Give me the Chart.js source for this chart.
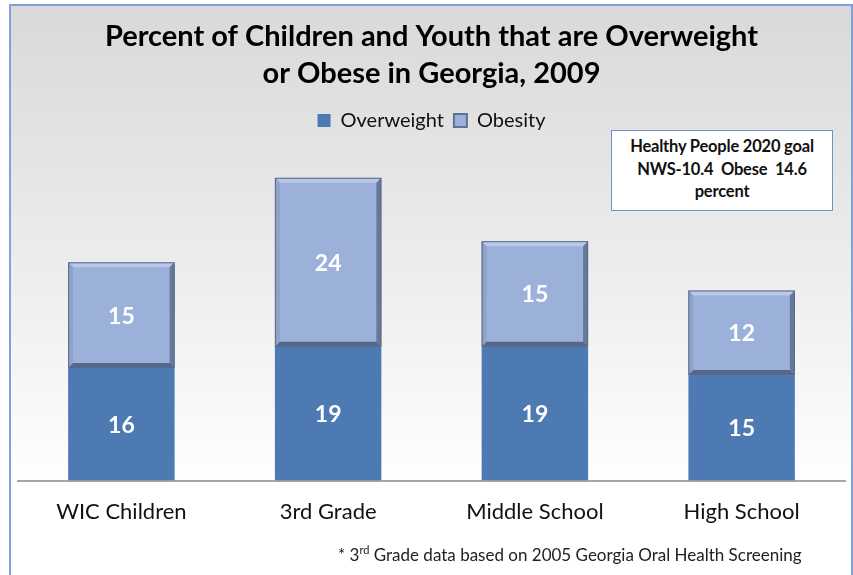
<!DOCTYPE html>
<html>
<head>
<meta charset="utf-8">
<script src="https://cdn.jsdelivr.net/npm/chart.js@4.4.1/dist/chart.umd.min.js"></script>
<style>
  html, body { margin: 0; padding: 0; width: 853px; height: 575px; overflow: hidden; background: #fff; font-family: Lato, sans-serif; }
  .frame {
    position: absolute; left: 9px; top: 4px; width: 840px; height: 600px;
    border: 2px solid #7FA3D6;
    background: linear-gradient(to bottom, #D9D9D9 0px, #E2E2E2 120px, #F0F0F0 300px, #FFFFFF 480px);
  }
  #wrap { position: absolute; left: 0; top: 0; width: 853px; height: 575px; }
  .goal {
    position: absolute; left: 611px; top: 130px; width: 222px; height: 81px;
    background: #fff; border: 1px solid #6F93C8; box-sizing: border-box;
    font-weight: bold; font-size: 16.5px; line-height: 22.5px; text-align: center;
    color: #111; padding-top: 4px; white-space: nowrap; letter-spacing: -0.2px;
  }
  .note {
    position: absolute; left: 338px; top: 544px; font-size: 17px; color: #222; white-space: nowrap;
  }
  .note sup { font-size: 11px; vertical-align: 7px; line-height: 0; }
</style>
</head>
<body>
<div class="frame"></div>
<div id="wrap"><canvas id="chart" width="853" height="575"></canvas></div>
<div class="goal">Healthy People 2020 goal<br>NWS-10.4&nbsp; Obese&nbsp; 14.6<br>percent</div>
<div class="note">* 3<sup>rd</sup> Grade data based on 2005 Georgia Oral Health Screening</div>
<script>
const groups = ['WIC Children', '3rd Grade', 'Middle School', 'High School'];
const overweight = [16, 19, 19, 15];
const obesity = [15, 24, 15, 12];

const blue = '#4E7AB3';
const lightBlue = '#9CB1DA';

// bevelled edges on the obesity bars plus the white numbers in every segment
const barDecor = {
  id: 'barDecor',
  afterDatasetsDraw(chart) {
    const ctx = chart.ctx;
    const bev = 5;
    chart.getDatasetMeta(1).data.forEach(bar => {
      const l = bar.x - bar.width / 2, r = bar.x + bar.width / 2;
      const t = bar.y, b = bar.base;
      const side = (pts, col) => {
        ctx.beginPath();
        ctx.moveTo(pts[0][0], pts[0][1]);
        pts.slice(1).forEach(p => ctx.lineTo(p[0], p[1]));
        ctx.closePath();
        ctx.fillStyle = col;
        ctx.fill();
      };
      ctx.save();
      side([[l, t], [r, t], [r - bev, t + bev], [l + bev, t + bev]], '#B9C8E6');
      side([[l, t], [l + bev, t + bev], [l + bev, b - bev], [l, b]], '#8FA3C9');
      side([[r, t], [r, b], [r - bev, b - bev], [r - bev, t + bev]], '#66789C');
      side([[l, b], [l + bev, b - bev], [r - bev, b - bev], [r, b]], '#56678A');
      ctx.strokeStyle = '#5A6A88';
      ctx.lineWidth = 1;
      ctx.strokeRect(l + 0.5, t + 0.5, r - l - 1, b - t - 1);
      ctx.restore();
    });
    ctx.save();
    ctx.font = 'bold 23px Lato';
    ctx.fillStyle = '#fff';
    ctx.textAlign = 'center';
    ctx.textBaseline = 'middle';
    chart.data.datasets.forEach((ds, i) => {
      chart.getDatasetMeta(i).data.forEach((bar, j) => {
        ctx.fillText(String(ds.data[j]), bar.x, (bar.y + bar.base) / 2 + 1);
      });
    });
    ctx.restore();
  }
};

new Chart(document.getElementById('chart'), {
  type: 'bar',
  data: {
    labels: groups,
    datasets: [
      { label: 'Overweight', data: overweight, backgroundColor: blue, borderWidth: 0 },
      { label: 'Obesity', data: obesity, backgroundColor: lightBlue, borderColor: '#5F7196', borderWidth: 2 }
    ]
  },
  options: {
    responsive: false,
    animation: false,
    layout: { padding: { left: 18, right: 8, top: 0, bottom: 40 } },
    datasets: { bar: { categoryPercentage: 1, barPercentage: 0.515 } },
    scales: {
      x: {
        stacked: true,
        grid: { display: false },
        border: { display: true, color: '#A6A6A6', width: 2 },
        ticks: { color: '#111', font: { family: 'Lato', size: 22 }, padding: 10 }
      },
      y: { stacked: true, display: false, min: 0, max: 48.3 }
    },
    plugins: {
      title: {
        display: true,
        text: ['Percent of Children and Youth that are Overweight', 'or Obese in Georgia, 2009'],
        color: '#000',
        font: { family: 'Lato', size: 29, weight: 'bold', lineHeight: 1.25 },
        padding: { top: 19, bottom: 9 }
      },
      legend: {
        labels: {
          color: '#111',
          font: { family: 'Lato', size: 20 },
          boxWidth: 13, boxHeight: 13, padding: 10
        }
      },
      tooltip: { enabled: false }
    }
  },
  plugins: [barDecor]
});
</script>
</body>
</html>
